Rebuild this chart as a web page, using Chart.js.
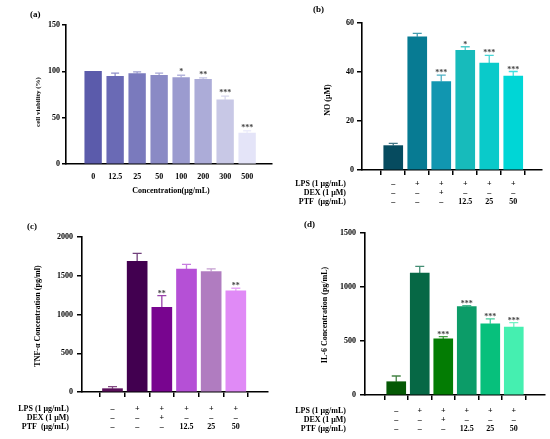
<!DOCTYPE html>
<html><head><meta charset="utf-8">
<script src="https://cdn.jsdelivr.net/npm/chart.js@4/dist/chart.umd.min.js"></script>
<style>
html,body{margin:0;padding:0;background:#fff;width:550px;height:439px;overflow:hidden}
.p{position:absolute}
</style></head><body>
<div class="p" style="left:0;top:0;width:275px;height:220px"><canvas id="ca"></canvas></div>
<div class="p" style="left:275px;top:0;width:275px;height:220px"><canvas id="cb"></canvas></div>
<div class="p" style="left:0;top:220px;width:275px;height:219px"><canvas id="cc"></canvas></div>
<div class="p" style="left:275px;top:220px;width:275px;height:219px"><canvas id="cd"></canvas></div>
<script>
// ---------- data ----------
const A_LABELS = ['0','12.5','25','50','100','200','300','500'];
const A_VALUES = [100, 94.7, 97.6, 95.8, 93.3, 91.5, 69.2, 33.4];
const A_ERR    = [0, 3.3, 1.8, 2.2, 2.5, 1.4, 4.0, 2.5];
const A_SIG    = ['', '', '', '', '*', '**', '***', '***'];
const A_YTICKS = [0, 50, 100, 150];

const B_VALUES = [9.95, 54.4, 36.1, 48.8, 43.6, 38.3];
const B_ERR    = [0.95, 1.4, 2.6, 1.5, 3.2, 1.9];
const B_SIG    = ['', '', '***', '*', '***', '***'];
const B_YTICKS = [0, 20, 40, 60];

const C_VALUES = [43, 1685, 1093, 1585, 1555, 1304];
const C_ERR    = [26, 103, 151, 61, 35, 35];
const C_SIG    = ['', '', '**', '', '', '**'];
const C_YTICKS = [0, 500, 1000, 1500, 2000];

const D_VALUES = [123, 1130, 519, 818, 660, 630];
const D_ERR    = [53, 61, 21, 9, 44, 40];
const D_SIG    = ['', '', '***', '***', '***', '***'];
const D_YTICKS = [0, 500, 1000, 1500];

const ROW_LPS = ['–', '+', '+', '+', '+', '+'];
const ROW_DEX = ['–', '–', '+', '–', '–', '–'];
const ROW_PTF = ['–', '–', '–', '12.5', '25', '50'];
const ROW_TITLES_BC = ['LPS (1 μg/mL)', 'DEX (1 μM)', 'PTF  (μg/mL)'];
const ROW_TITLES_D  = ['LPS (1 μg/mL)', 'DEX (1 μM)', 'PTF (μg/mL)'];

// ---------- styles ----------
const A_COLORS = ['#5b5bab','#6a6ab5','#7a7abd','#8a8ac5','#9b9bcf','#acacd8','#c8c8e6','#e4e4f8'];
const B_COLORS = ['#064b5f','#077b93','#1196b0','#17bbbb','#0acaca','#00d6d6'];
const C_COLORS = ['#5a0f5a','#420050','#78058f','#b550d6','#b07cc0','#e08af6'];
const D_COLORS = ['#055905','#066845','#037c03','#0c9c68','#07c07c','#45efb0'];

const SERIF = '"Liberation Serif", "DejaVu Serif", serif';

function makePanel(id, o) {
  const pts = o.values.map((v, i) => ({x: i, y: v}));
  const plugin = {
    id: 'extras_' + id,
    afterDatasetsDraw(chart) {
      const ctx = chart.ctx, xs = chart.scales.x, ys = chart.scales.y;
      ctx.save();
      o.values.forEach((v, i) => {
        const x = xs.getPixelForValue(i);
        const y0 = ys.getPixelForValue(v);
        const y1 = ys.getPixelForValue(v + o.err[i]);
        if (o.err[i] > 0) {
          ctx.strokeStyle = o.colors[i];
          ctx.globalAlpha = 0.75;
          ctx.lineWidth = 1.3;
          ctx.beginPath();
          ctx.moveTo(x, y0); ctx.lineTo(x, y1);
          ctx.moveTo(x - o.cap, y1); ctx.lineTo(x + o.cap, y1);
          ctx.stroke();
          ctx.globalAlpha = 1;
        }
        if (o.sig[i]) {
          ctx.fillStyle = '#444';
          ctx.font = 'bold 8px ' + SERIF;
          ctx.textAlign = 'center';
          ctx.textBaseline = 'alphabetic';
          ctx.fillText(o.sig[i], x, y1 + o.sigOff);
        }
      });
      ctx.restore();
    },
    afterDraw(chart) {
      const ctx = chart.ctx, xs = chart.scales.x;
      ctx.save();
      ctx.fillStyle = '#000';
      ctx.font = 'bold 9px ' + SERIF;
      ctx.textAlign = 'left'; ctx.textBaseline = 'middle';
      ctx.fillText(o.tag, o.tagX, o.tagY);
      ctx.save();
      ctx.translate(o.yTitleX, o.yTitleY);
      ctx.rotate(-Math.PI / 2);
      ctx.font = 'bold ' + o.yTitleSize + 'px ' + SERIF;
      ctx.textAlign = 'center'; ctx.textBaseline = 'middle';
      ctx.fillText(o.yTitle, 0, 0);
      ctx.restore();
      if (o.labels) {
        ctx.font = 'bold 8px ' + SERIF;
        ctx.textAlign = 'center'; ctx.textBaseline = 'middle';
        o.labels.forEach((t, i) => ctx.fillText(t, xs.getPixelForValue(i), o.tickY));
        ctx.fillText(o.xTitle, o.xTitleX, o.xTitleY);
      }
      if (o.rows) {
        ctx.font = 'bold 8px ' + SERIF;
        o.rows.forEach((row, r) => {
          const y = o.rowY[r];
          ctx.textAlign = 'right'; ctx.textBaseline = 'middle';
          ctx.fillText(o.rowTitles[r], o.rowRight, y);
          ctx.textAlign = 'center';
          row.forEach((t, i) => ctx.fillText(t, xs.getPixelForValue(i), y));
        });
      }
      ctx.restore();
    }
  };
  return new Chart(document.getElementById(id), {
    type: 'bar',
    data: {
      datasets: [{
        data: pts,
        backgroundColor: o.colors,
        borderWidth: 0,
        barThickness: o.barW
      }]
    },
    options: {
      responsive: true,
      maintainAspectRatio: false,
      animation: false,
      devicePixelRatio: 1,
      layout: {padding: o.pad},
      plugins: {legend: {display: false}, tooltip: {enabled: false}},
      scales: {
        x: {
          type: 'linear',
          min: o.xmin, max: o.xmax,
          afterBuildTicks(s) { s.ticks = o.values.map((v, i) => ({value: i})); },
          afterFit(s) { s.height = 0; },
          ticks: {display: false},
          grid: {display: o.xTicks, drawOnChartArea: false, drawTicks: true, tickLength: 5, color: '#000', lineWidth: 1.5},
          border: {display: true, color: '#000', width: 1.6}
        },
        y: {
          min: 0, max: o.yticks[o.yticks.length - 1],
          afterBuildTicks(s) { s.ticks = o.yticks.map(v => ({value: v})); },
          afterFit(s) { s.width = o.yW; },
          ticks: {color: '#000', padding: o.yPad, font: {family: SERIF, weight: 'bold', size: 8},
                  callback: v => String(v)},
          grid: {display: true, drawOnChartArea: false, drawTicks: true, tickLength: o.yTick, color: '#000', lineWidth: 1.5},
          border: {display: true, color: '#000', width: 1.6}
        }
      }
    },
    plugins: [plugin]
  });
}

makePanel('ca', {
  values: A_VALUES, err: A_ERR, sig: A_SIG, yticks: A_YTICKS, colors: A_COLORS,
  labels: A_LABELS, xTitle: 'Concentration(μg/mL)', xTitleX: 171, xTitleY: 191, tickY: 177,
  yW: 66, pad: {left: 0, right: 3, top: 25, bottom: 56},
  xmin: -0.648, xmax: 7.545, barW: 16.7, cap: 4, sigOff: -1, xTicks: false,
  yPad: 2, yTick: 4,
  tag: '(a)', tagX: 30, tagY: 15,
  yTitle: 'cell viability (%)', yTitleX: 38, yTitleY: 102, yTitleSize: 7
});
makePanel('cb', {
  values: B_VALUES, err: B_ERR, sig: B_SIG, yticks: B_YTICKS, colors: B_COLORS,
  rows: [ROW_LPS, ROW_DEX, ROW_PTF], rowTitles: ROW_TITLES_BC, rowY: [184, 193, 201.5], rowRight: 71,
  yW: 87, pad: {left: 0, right: 8, top: 23, bottom: 50},
  xmin: -0.677, xmax: 5.573, barW: 19, cap: 4.5, sigOff: 0, xTicks: true,
  yPad: 3, yTick: 5,
  tag: '(b)', tagX: 38, tagY: 10,
  yTitle: 'NO (μM)', yTitleX: 53, yTitleY: 100, yTitleSize: 8
});
makePanel('cc', {
  values: C_VALUES, err: C_ERR, sig: C_SIG, yticks: C_YTICKS, colors: C_COLORS,
  rows: [ROW_LPS, ROW_DEX, ROW_PTF], rowTitles: ROW_TITLES_BC, rowY: [189, 198, 207], rowRight: 69,
  yW: 82, pad: {left: 0, right: 7, top: 17, bottom: 47},
  xmin: -0.608, xmax: 5.676, barW: 20, cap: 4.5, sigOff: 0, xTicks: true,
  yPad: 4, yTick: 5,
  tag: '(c)', tagX: 27, tagY: 7,
  yTitle: 'TNF-α Concentration (pg/ml)', yTitleX: 38, yTitleY: 96, yTitleSize: 8
});
makePanel('cd', {
  values: D_VALUES, err: D_ERR, sig: D_SIG, yticks: D_YTICKS, colors: D_COLORS,
  rows: [ROW_LPS, ROW_DEX, ROW_PTF], rowTitles: ROW_TITLES_D, rowY: [191, 200, 209], rowRight: 71,
  yW: 90, pad: {left: 0, right: 5, top: 13, bottom: 44},
  xmin: -0.691, xmax: 5.69, barW: 19, cap: 4.5, sigOff: 0, xTicks: true,
  yPad: 4, yTick: 5,
  tag: '(d)', tagX: 29, tagY: 5,
  yTitle: 'IL-6 Concentration (pg/mL)', yTitleX: 50, yTitleY: 95, yTitleSize: 8
});
</script>
</body></html>
